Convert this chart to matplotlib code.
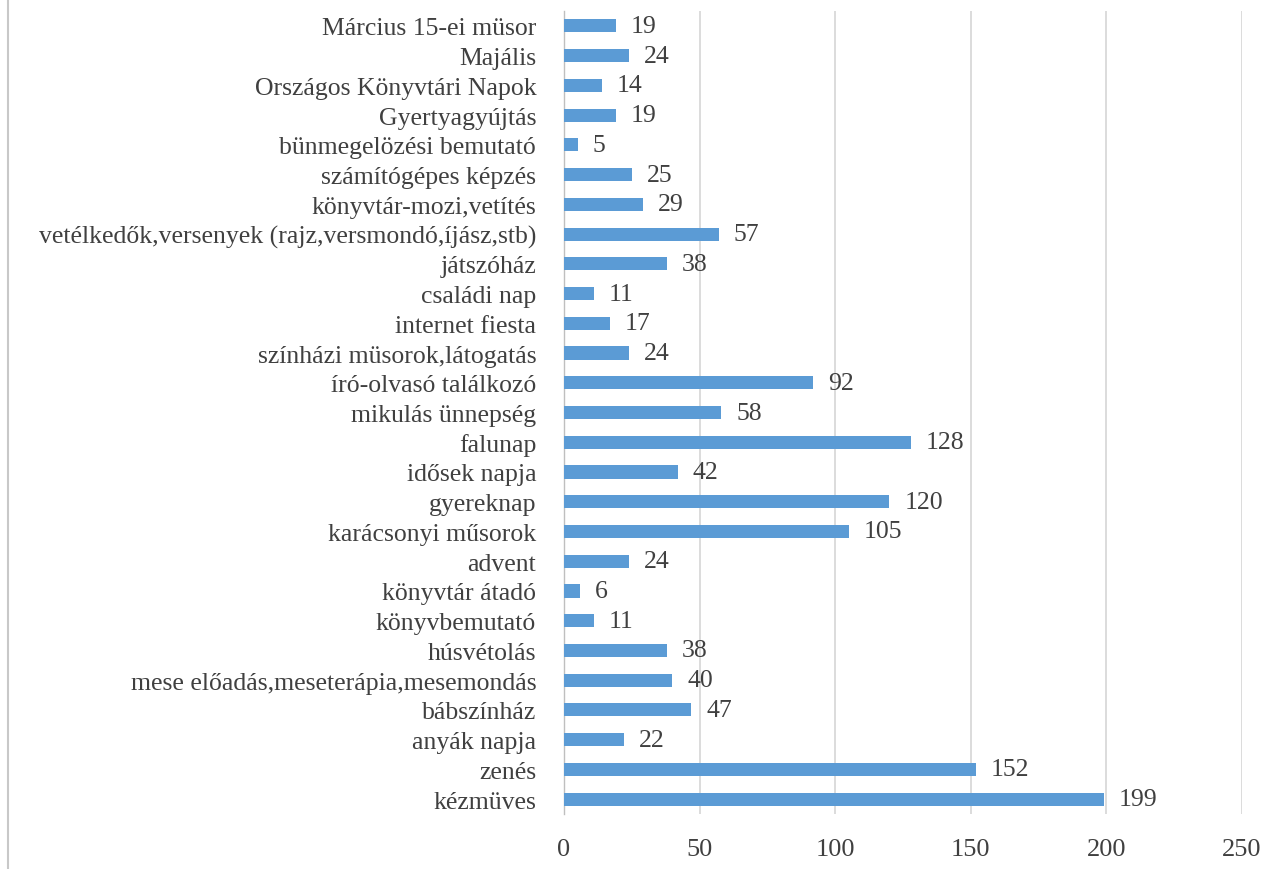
import matplotlib.pyplot as plt
from matplotlib.lines import Line2D

# categories listed bottom to top, as matplotlib draws barh
categories = [
    'kézmüves', 'zenés', 'anyák napja', 'bábszínház',
    'mese előadás,meseterápia,mesemondás', 'húsvétolás', 'könyvbemutató',
    'könyvtár átadó', 'advent', 'karácsonyi műsorok', 'gyereknap',
    'idősek napja', 'falunap', 'mikulás ünnepség', 'író-olvasó találkozó',
    'színházi müsorok,látogatás', 'internet fiesta', 'családi nap',
    'játszóház', 'vetélkedők,versenyek (rajz,versmondó,íjász,stb)',
    'könyvtár-mozi,vetítés', 'számítógépes képzés', 'bünmegelözési bemutató',
    'Gyertyagyújtás', 'Országos Könyvtári Napok', 'Majális',
    'Március 15-ei müsor',
]
values = [199, 152, 22, 47, 40, 38, 11, 6, 24, 105, 120, 42, 128, 58, 92,
          24, 17, 11, 38, 57, 29, 25, 5, 19, 14, 24, 19]
xticks = [0, 50, 100, 150, 200, 250]

plt.rcParams['font.family'] = ['Liberation Serif', 'DejaVu Serif']
txt = '#404040'

fig = plt.figure(figsize=(12.83, 8.7), dpi=100)
ax = fig.add_axes([0.4396, 0.0632, 0.5284, 0.923])

y = range(len(categories))
ax.barh(y, values, height=0.44, color='#5B9BD5', zorder=3)
for yi, v in zip(y, values):
    ax.text(v + 5.5, yi, str(v), va='center', ha='left', fontsize=18.5, color=txt)

ax.set_xlim(0, 250)
ax.set_ylim(-0.5, len(categories) - 0.5)
ax.set_xticks(xticks)
ax.set_yticks(list(y))
ax.set_yticklabels(categories)
ax.tick_params(axis='y', length=0, pad=20, labelsize=18.5, labelcolor=txt)
ax.tick_params(axis='x', length=0, pad=17, labelsize=19, labelcolor=txt)
ax.xaxis.grid(True, color='#D9D9D9', linewidth=1.3, zorder=0)
for s in ['top', 'right', 'bottom']:
    ax.spines[s].set_visible(False)
ax.spines['left'].set_color('#BFBFBF')
ax.spines['left'].set_linewidth(1.0)

# thin frame line on the left edge of the picture
fig.add_artist(Line2D([0.006, 0.006], [0, 1], color='#C8C8C8', linewidth=1.5,
                      transform=fig.transFigure))

fig.savefig('out.png', dpi=100)
